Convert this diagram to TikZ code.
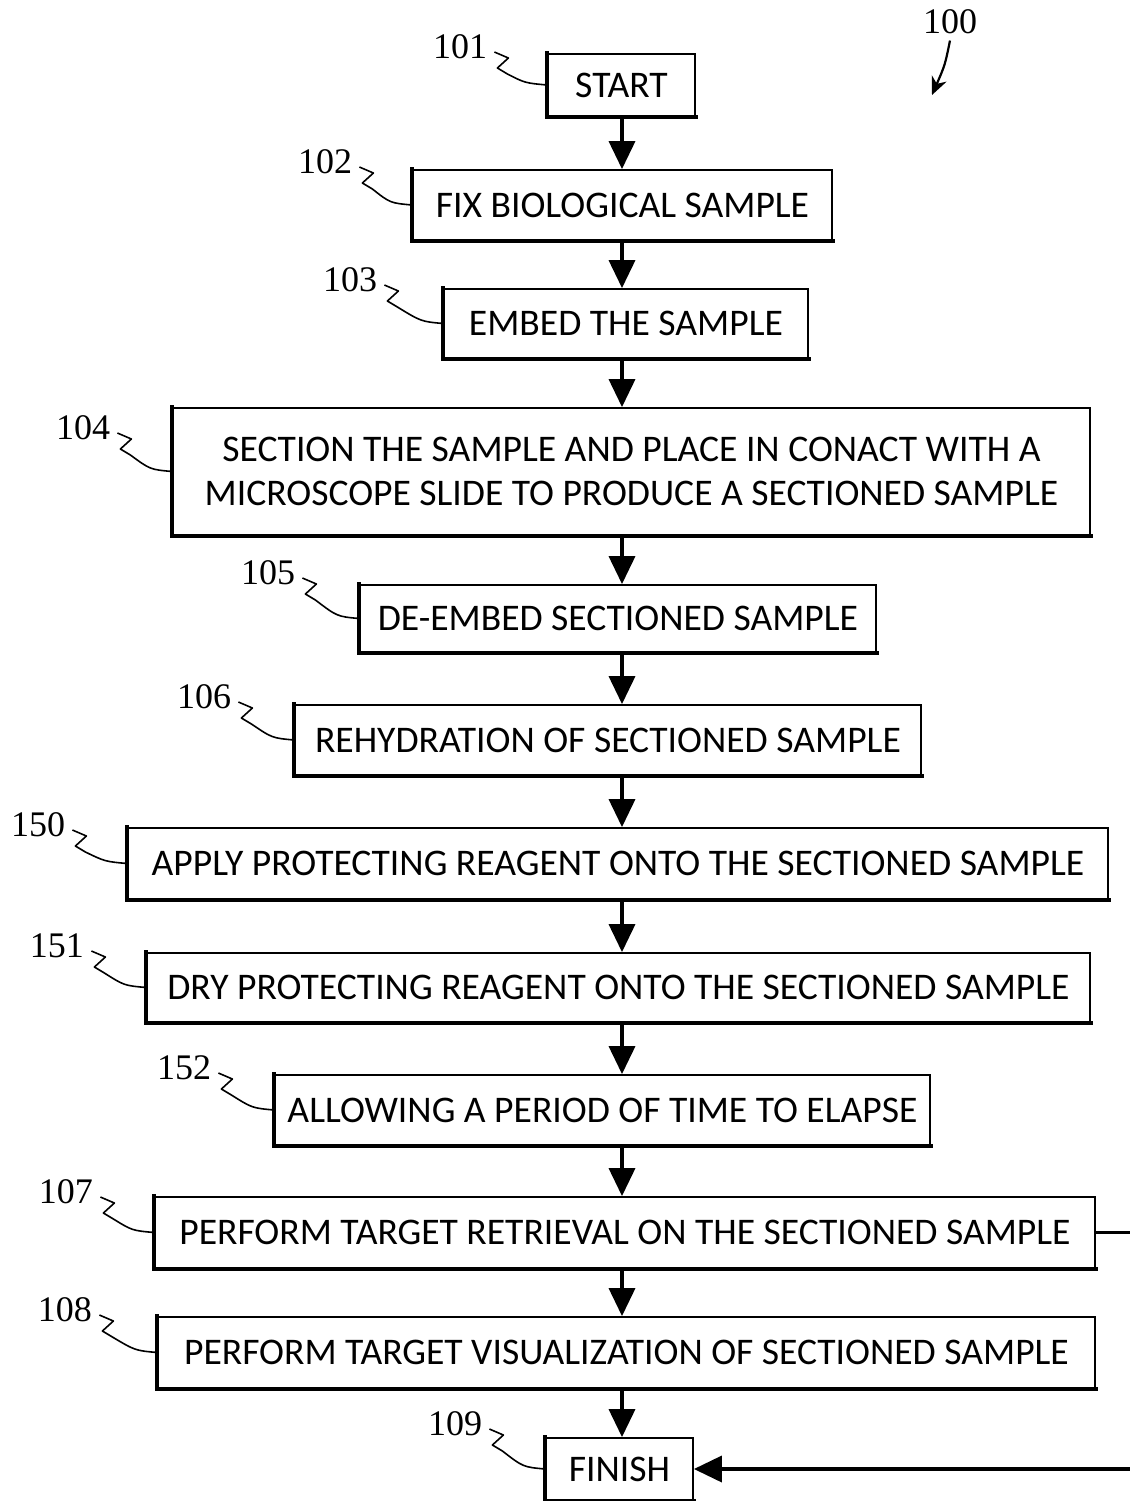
\documentclass[tikz,border=0pt]{standalone}
\usepackage{fontspec}
\setmainfont{Carlito}
\newfontfamily\numfont{Liberation Serif}
\usetikzlibrary{arrows.meta,calc}
\newcommand\leadline[2]{\draw[lead] ($(#1.east)+(7,5)$) -- ++(14,6) -- ++(-11,10) -- ++(10,6) .. controls ($(#2.west)+(-22,-2)$) .. (#2.west);}
\begin{document}
\begin{tikzpicture}[x=0.5pt,y=-0.5pt,
  box/.style={draw, line width=0.9pt, inner sep=0pt, align=center,
    font=\fontsize{18.8}{22}\selectfont},
  lbl/.style={font=\numfont\fontsize{18}{20}\selectfont, inner sep=0pt},
  lead/.style={line width=0.8pt, line join=round},
  arr/.style={line width=1.8pt, -{Triangle[length=14pt,width=13pt]}},
  shadowline/.style={line width=2pt, line cap=rect}]
\useasboundingbox (0,0) rectangle (1130,1501);
\coordinate (ax) at (622,0);
\coordinate (rt) at (1145,0);

\newcommand\bx[6]{%
  \node[box, minimum width=#4*0.5pt, minimum height=#5*0.5pt] (#1) at (#2,#3) {#6};
  \draw[shadowline] (#1.north west) -- (#1.south west) -- (#1.south east);}

\bx{s101}{621.5}{85}{147}{62}{START}
\bx{s102}{622.5}{205}{419}{70}{FIX BIOLOGICAL SAMPLE}
\bx{s103}{626}{323.5}{364}{69}{EMBED THE SAMPLE}
\bx{s104}{631.5}{471.5}{917}{127}{SECTION THE SAMPLE AND PLACE IN CONACT WITH A\\MICROSCOPE SLIDE TO PRODUCE A SECTIONED SAMPLE}
\bx{s105}{618}{618.5}{516}{67}{DE-EMBED SECTIONED SAMPLE}
\bx{s106}{608}{740}{626}{70}{REHYDRATION OF SECTIONED SAMPLE}
\bx{s150}{618}{863.5}{980}{71}{APPLY PROTECTING REAGENT ONTO THE SECTIONED SAMPLE}
\bx{s151}{618.5}{987.5}{943}{69}{DRY PROTECTING REAGENT ONTO THE SECTIONED SAMPLE}
\bx{s152}{602.5}{1110}{655}{70}{ALLOWING A PERIOD OF TIME TO ELAPSE}
\bx{s107}{625}{1232.5}{940}{71}{PERFORM TARGET RETRIEVAL ON THE SECTIONED SAMPLE}
\bx{s108}{626.5}{1352.5}{937}{71}{PERFORM TARGET VISUALIZATION OF SECTIONED SAMPLE}
\bx{s109}{619.5}{1469}{147}{62}{FINISH}

\node[lbl] (l100) at (950,22) {100};
\node[lbl] (l101) at (460,47) {101};
\node[lbl] (l102) at (325,162) {102};
\node[lbl] (l103) at (350,280) {103};
\node[lbl] (l104) at (83,428) {104};
\node[lbl] (l105) at (268,573) {105};
\node[lbl] (l106) at (204,697) {106};
\node[lbl] (l150) at (38,825) {150};
\node[lbl] (l151) at (57,946) {151};
\node[lbl] (l152) at (184,1068) {152};
\node[lbl] (l107) at (66,1192) {107};
\node[lbl] (l108) at (65,1310) {108};
\node[lbl] (l109) at (455,1424) {109};

\leadline{l101}{s101}
\leadline{l102}{s102}
\leadline{l103}{s103}
\leadline{l104}{s104}
\leadline{l105}{s105}
\leadline{l106}{s106}
\leadline{l150}{s150}
\leadline{l151}{s151}
\leadline{l152}{s152}
\leadline{l107}{s107}
\leadline{l108}{s108}
\leadline{l109}{s109}

\coordinate (t100) at (932,95);
\draw[line width=1.1pt, -{Stealth[length=9pt,width=8pt]}] ($(l100.south)+(0,6)$) .. controls (945,65) .. (t100);

\foreach \a/\b in {s101/s102,s102/s103,s103/s104,s104/s105,s105/s106,s106/s150,s150/s151,s151/s152,s152/s107,s107/s108,s108/s109}
  \draw[arr] (\a.south -| ax) -- (\b.north -| ax);

\draw[arr] (s107.east) -- (s107.east -| rt) -- (s109.east -| rt) -- (s109.east);
\end{tikzpicture}
\end{document}
